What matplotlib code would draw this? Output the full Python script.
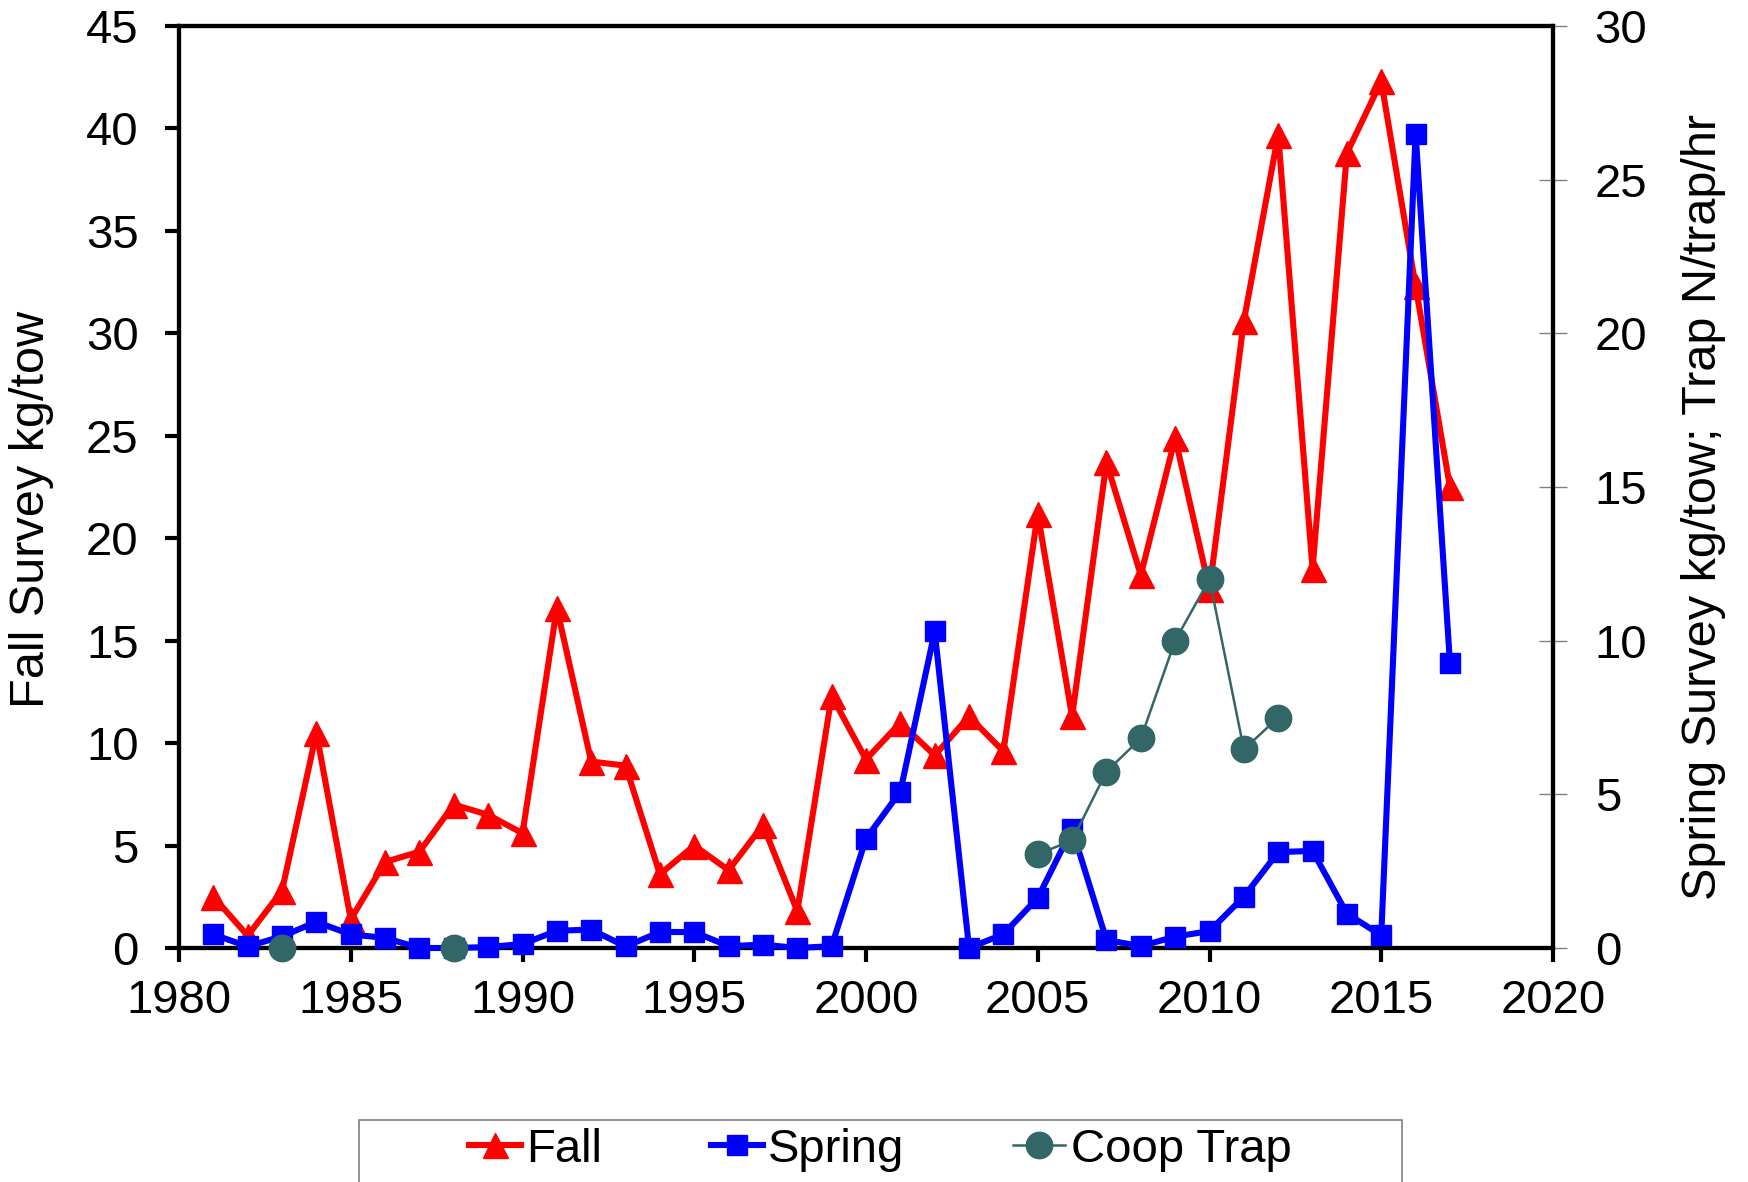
import numpy as np
import matplotlib
matplotlib.use("Agg")
import matplotlib.pyplot as plt
from matplotlib.patches import Rectangle

plt.rcParams['font.family'] = ['Liberation Sans', 'DejaVu Sans']

years = list(range(1981, 2018))
fall = [2.5, 0.6, 2.8, 10.5, 1.4, 4.2, 4.7, 7.0, 6.5, 5.6,
        16.6, 9.1, 8.9, 3.6, 5.0, 3.8, 6.0, 1.8, 12.3, 9.2,
        11.0, 9.4, 11.3, 9.6, 21.2, 11.3, 23.7, 18.2, 24.9, 17.5,
        30.6, 39.7, 18.5, 38.8, 42.3, 32.3, 22.5]
spring = [0.44, 0.05, 0.38, 0.85, 0.44, 0.33, 0.0, 0.0, 0.03, 0.13,
          0.56, 0.6, 0.05, 0.52, 0.52, 0.06, 0.11, 0.0, 0.06, 3.56,
          5.09, 10.3, 0.0, 0.45, 1.63, 3.87, 0.26, 0.06, 0.37, 0.55,
          1.67, 3.12, 3.16, 1.12, 0.41, 26.5, 9.27]
nan = np.nan
coop = [nan, nan, 0.0, nan, nan, nan, nan, 0.0, nan, nan,
        nan, nan, nan, nan, nan, nan, nan, nan, nan, nan,
        nan, nan, nan, nan, 3.05, 3.5, 5.74, 6.82, 10.0, 12.0,
        6.46, 7.5, nan, nan, nan, nan, nan]

fig = plt.figure(figsize=(17.48, 11.82), dpi=100)
ax = fig.add_axes([179/1748, 1 - 948/1182, (1553-179)/1748, (948-26)/1182])
ax2 = ax.twinx()

l1, = ax.plot(years, fall, color='#FF0000', lw=4.4, marker='^', ms=18,
              clip_on=False, zorder=3, label='Fall')
l2, = ax2.plot(years, spring, color='#0000FF', lw=4.4, marker='s', ms=15,
               clip_on=False, zorder=3, label='Spring')
l3, = ax2.plot(years, coop, color='#336666', lw=1.8, marker='o', ms=19,
               clip_on=False, zorder=4, label='Coop Trap')

ax.set_xlim(1980, 2020)
ax.set_ylim(0, 45)
ax2.set_ylim(0, 30)
ax.set_xticks(range(1980, 2021, 5))
ax.set_yticks(range(0, 46, 5))
ax2.set_yticks(range(0, 31, 5))

for a in (ax, ax2):
    for s in a.spines.values():
        s.set_linewidth(3)
        s.set_color('black')

ax.tick_params(axis='y', direction='out', length=10, width=3, labelsize=34, pad=19)
ax.tick_params(axis='x', direction='out', length=10, width=3, labelsize=34, pad=12)
ax2.tick_params(axis='y', direction='inout', length=20, width=1, color='#808080',
                labelsize=34, pad=20)

ax.set_ylabel('Fall Survey kg/tow', fontsize=35)
ax.yaxis.set_label_coords(-0.091, 0.476)
ax2.set_ylabel('Spring Survey kg/tow; Trap N/trap/hr', fontsize=35)
ax2.yaxis.set_label_coords(1.093, 0.478)

fig.patches.append(Rectangle((359/1748, -0.05), 1043/1748, 0.05 + 1 - 1120/1182,
                             transform=fig.transFigure, fill=False,
                             edgecolor='#808080', lw=1.2))
fig.legend(handles=[l1, l2, l3], loc='center', bbox_to_anchor=(0.5035, 1 - 1150/1182),
           ncol=3, frameon=False, fontsize=34, handlelength=1.1,
           handletextpad=0.12, columnspacing=2.3, borderpad=0)

fig.savefig('out.png', dpi=100)
